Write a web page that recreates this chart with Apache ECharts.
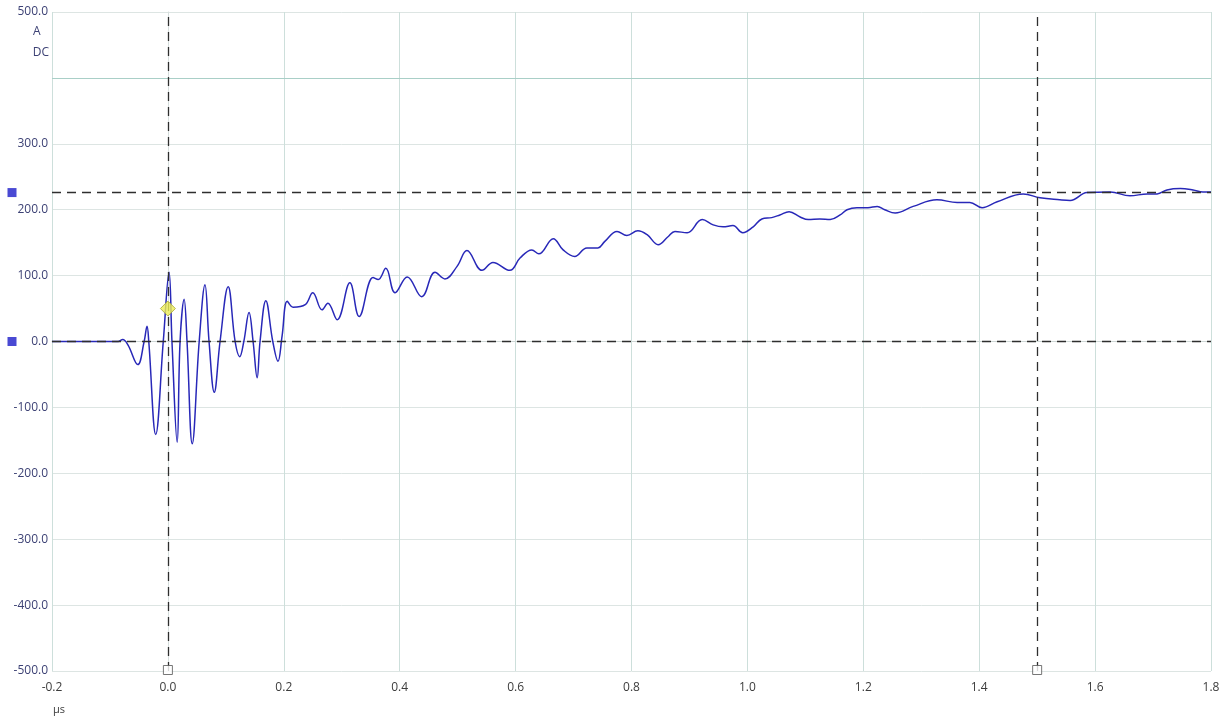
<!DOCTYPE html>
<html>
<head>
<meta charset="utf-8">
<script src="https://cdn.jsdelivr.net/npm/echarts@6/dist/echarts.min.js"></script>
<style>
  html, body { margin: 0; padding: 0; background: #fff; }
  #chart { width: 1227px; height: 721px; }
</style>
</head>
<body>
<div id="chart"></div>
<script>
// waveform samples (time in µs, current in A)
const timeUs = [
  -0.2, -0.117, -0.086, -0.078, -0.069, -0.052, -0.041, -0.036, -0.033, -0.021,
  -0.008, 0.002, 0.007, 0.016, 0.021, 0.028, 0.033, 0.042, 0.054, 0.064,
  0.071, 0.080, 0.090, 0.104, 0.116, 0.124, 0.131, 0.140, 0.147, 0.154,
  0.159, 0.169, 0.181, 0.190, 0.197, 0.206, 0.216, 0.237, 0.250, 0.266,
  0.276, 0.292, 0.314, 0.330, 0.354, 0.363, 0.376, 0.392, 0.413, 0.438,
  0.461, 0.478, 0.499, 0.516, 0.542, 0.561, 0.590, 0.608, 0.628, 0.640,
  0.665, 0.682, 0.702, 0.723, 0.742, 0.754, 0.775, 0.792, 0.811, 0.827,
  0.846, 0.863, 0.875, 0.896, 0.922, 0.941, 0.958, 0.975, 0.992, 1.010,
  1.025, 1.042, 1.056, 1.072, 1.091, 1.105, 1.125, 1.143, 1.160, 1.172,
  1.189, 1.208, 1.224, 1.237, 1.255, 1.286, 1.327, 1.362, 1.384, 1.405,
  1.431, 1.476, 1.505, 1.539, 1.557, 1.586, 1.626, 1.660, 1.690, 1.707,
  1.724, 1.747, 1.769, 1.786, 1.8
]
const currentA = [
  0, 0, 0, 3, -5, -35, 0, 23, 0, -141,
  0, 105, 0, -153, 0, 64, 0, -155, 0, 86,
  0, -77, 0, 83, 0, -23, 0, 44, 0, -55,
  0, 62, 0, -30, 8, 61, 52, 56, 74, 48,
  58, 33, 89, 38, 97, 94, 111, 74, 98, 68,
  105, 95, 114, 138, 108, 120, 108, 127, 139, 133,
  156, 139, 129, 142, 142, 152, 167, 161, 168, 162,
  147, 159, 167, 165, 185, 177, 174, 176, 165, 174,
  186, 188, 192, 197, 189, 185, 186, 185, 192, 200,
  203, 203, 205, 200, 195, 205, 215, 211, 211, 203,
  212, 224, 218, 215, 214, 226, 227, 221, 224, 224,
  230, 232, 230, 227, 227
]

// cursors
const cursorTimes = [0, 1.5]
const cursorLevels = [0, 226]
const markerPoint = [0, 50]

const yMin = -500
const yMax = 500
const yStep = 100
const xMin = -0.2
const xMax = 1.8
const xStep = 0.2

const chart = echarts.init(document.getElementById('chart'))

const waveData = timeUs.map((t, i) => [t, currentA[i]])
const dashStyle = { color: '#2e2e2e', width: 1.3, type: [9, 6] }

chart.setOption({
  animation: false,
  grid: { left: 52, right: 16, top: 12, bottom: 50 },
  xAxis: {
    type: 'value',
    min: xMin,
    max: xMax,
    interval: xStep,
    axisLine: { show: true, lineStyle: { color: '#cfd8d6' } },
    axisTick: { show: false },
    axisLabel: {
      color: '#3c3c3c',
      fontFamily: 'Open Sans',
      fontSize: 12,
      margin: 11,
      formatter: v => v.toFixed(1)
    },
    splitLine: { show: true, lineStyle: { color: '#cddfdb', width: 1 } }
  },
  yAxis: {
    type: 'value',
    min: yMin,
    max: yMax,
    interval: yStep,
    axisLine: { show: true, lineStyle: { color: '#d6dedd' } },
    axisTick: { show: false },
    axisLabel: {
      color: '#3d4275',
      fontFamily: 'Open Sans',
      fontSize: 12,
      margin: 4,
      formatter: v => (Math.round(v) === 400 ? '' : v.toFixed(1))
    },
    splitLine: { show: true, lineStyle: { color: '#dde5e3', width: 1 } }
  },
  graphic: [
    { type: 'text', left: 33, top: 26, style: { text: 'A', fill: '#3d4275', font: '12px "Open Sans"' } },
    { type: 'text', right: 1178, top: 47, style: { text: 'DC', fill: '#3d4275', font: '12px "Open Sans"' } },
    { type: 'text', left: 53, top: 704, style: { text: 'µs', fill: '#3c3c3c', font: '11px "Open Sans"' } }
  ],
  series: [
    {
      type: 'line',
      data: [],
      silent: true,
      markLine: {
        symbol: 'none',
        silent: true,
        label: { show: false },
        lineStyle: { color: '#a9cfc7', width: 1.2, type: 'solid' },
        data: [{ yAxis: 400 }]
      }
    },
    {
      type: 'line',
      data: waveData,
      smooth: 0.4,
      showSymbol: false,
      lineStyle: { color: '#2828b8', width: 1.5 },
      z: 3
    },
    {
      type: 'line',
      data: [],
      markLine: {
        symbol: 'none',
        silent: true,
        label: { show: false },
        lineStyle: dashStyle,
        data: cursorTimes.map(t => ({ xAxis: t }))
          .concat(cursorLevels.map(v => ({ yAxis: v })))
      },
      z: 4
    },
    {
      type: 'scatter',
      data: cursorLevels.map(v => [xMin, v]),
      symbol: 'rect',
      symbolSize: 9,
      symbolOffset: [-40, 0],
      clip: false,
      itemStyle: { color: '#1c1cc8' },
      z: 5
    },
    {
      type: 'scatter',
      data: cursorTimes.map(t => [t, yMin]),
      symbol: 'rect',
      symbolSize: 9,
      symbolOffset: [0, -1],
      clip: false,
      itemStyle: { color: '#ffffff', borderColor: '#555', borderWidth: 1 },
      z: 5
    },
    {
      type: 'scatter',
      data: [markerPoint],
      symbol: 'diamond',
      symbolSize: [15, 15],
      itemStyle: { color: '#eeee55', borderColor: '#a6a63a', borderWidth: 1 },
      z: 6
    }
  ]
})
</script>
</body>
</html>
